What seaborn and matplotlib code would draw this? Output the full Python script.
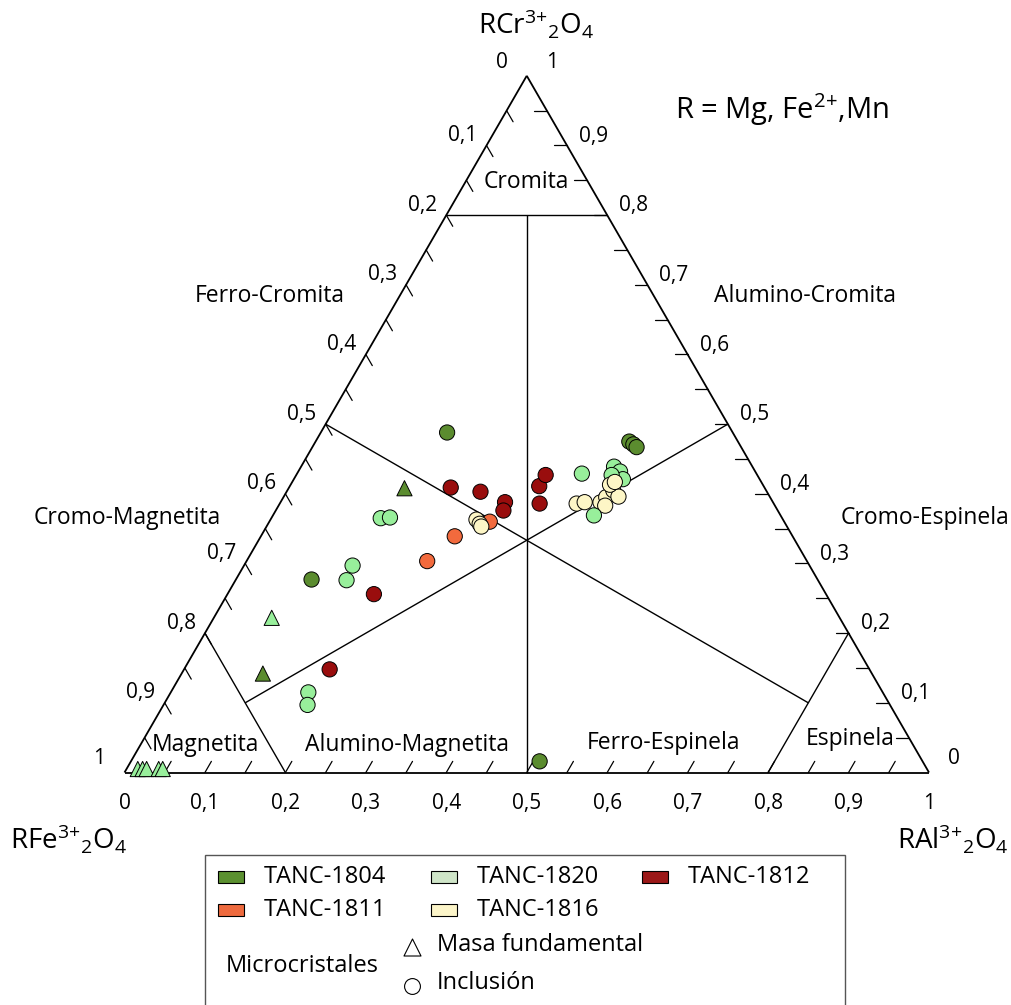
import numpy as np
import pandas as pd
import matplotlib
matplotlib.use('Agg')
import matplotlib.pyplot as plt
import seaborn as sns
from matplotlib.patches import Rectangle

tanc1804_incl = [(0.355, 0.157, 0.488), (0.629, 0.094, 0.277), (0.135, 0.390, 0.475),
                 (0.132, 0.397, 0.471), (0.130, 0.403, 0.467), (0.476, 0.508, 0.016)]
tanc1804_masa = [(0.448, 0.144, 0.408), (0.757, 0.101, 0.142)]

tanc1820_incl = [(0.499, 0.136, 0.365), (0.487, 0.147, 0.366), (0.568, 0.135, 0.297),
                 (0.586, 0.138, 0.276), (0.714, 0.171, 0.115), (0.724, 0.179, 0.097),
                 (0.217, 0.354, 0.429), (0.172, 0.389, 0.439), (0.168, 0.400, 0.432),
                 (0.170, 0.409, 0.421), (0.181, 0.392, 0.427)]
tanc1820_masa = [(0.706, 0.072, 0.222), (0.981, 0.014, 0.005), (0.975, 0.020, 0.005),
                 (0.970, 0.025, 0.005), (0.955, 0.040, 0.005), (0.950, 0.045, 0.005)]

tanc1812_incl = [(0.390, 0.201, 0.409), (0.356, 0.241, 0.403), (0.333, 0.279, 0.388),
                 (0.341, 0.283, 0.376), (0.279, 0.310, 0.411), (0.263, 0.310, 0.427),
                 (0.291, 0.323, 0.386), (0.562, 0.182, 0.256), (0.671, 0.181, 0.148)]

tanc1811_incl = [(0.366, 0.274, 0.360), (0.420, 0.241, 0.339), (0.473, 0.225, 0.304)]

tanc1816_incl = [(0.381, 0.256, 0.363), (0.380, 0.263, 0.357), (0.380, 0.267, 0.353),
                 (0.245, 0.369, 0.386), (0.234, 0.378, 0.388), (0.213, 0.395, 0.385),
                 (0.203, 0.400, 0.394), (0.190, 0.405, 0.405), (0.188, 0.416, 0.396),
                 (0.190, 0.397, 0.413), (0.182, 0.401, 0.417), (0.211, 0.406, 0.383)]

tanc1820_extra = [(0.232, 0.399, 0.369)]

muestras = ['TANC-1804', 'TANC-1811', 'TANC-1820', 'TANC-1816', 'TANC-1812']
colores = {'TANC-1804': '#5b8c2f', 'TANC-1820': '#98ef9b', 'TANC-1812': '#990d0d',
           'TANC-1811': '#f26a3d', 'TANC-1816': '#fdf6c6'}
colores_leyenda = {'TANC-1804': '#5b9030', 'TANC-1820': '#cfe5c8', 'TANC-1812': '#9b1818',
                   'TANC-1811': '#ee6a3e', 'TANC-1816': '#fcf5c9'}

tick_vals = np.round(np.arange(0, 1.01, 0.1), 1)

campos = ['Cromita', 'Ferro-Cromita', 'Alumino-Cromita', 'Magnetita',
          'Alumino-Magnetita', 'Ferro-Espinela', 'Espinela']
campos_pos = [(0.500, 0.734), (0.181, 0.592), (0.846, 0.592),
              (0.101, 0.034), (0.351, 0.034), (0.670, 0.037), (0.902, 0.042)]


def tern(fe, al, cr):
    s = fe + al + cr
    al, cr = al / s, cr / s
    return al + cr / 2, cr * np.sqrt(3) / 2


def px(x, y):
    # pixel de la figura -> coordenadas del triángulo
    return (x - 124.5) / 804.5, (772.5 - y) / 804.5


filas = []
for nombre, tipo, pts in [('TANC-1804', 'Inclusión', tanc1804_incl),
                          ('TANC-1804', 'Masa fundamental', tanc1804_masa),
                          ('TANC-1820', 'Inclusión', tanc1820_incl),
                          ('TANC-1820', 'Masa fundamental', tanc1820_masa),
                          ('TANC-1812', 'Inclusión', tanc1812_incl),
                          ('TANC-1811', 'Inclusión', tanc1811_incl),
                          ('TANC-1816', 'Inclusión', tanc1816_incl),
                          ('TANC-1820', 'Inclusión', tanc1820_extra)]:
    for fe, al, cr in pts:
        x, y = tern(fe, al, cr)
        filas.append({'muestra': nombre, 'tipo': tipo, 'x': x, 'y': y})
df = pd.DataFrame(filas)

sns.set_style('white')
plt.rcParams['font.family'] = ['Open Sans', 'DejaVu Sans']
plt.rcParams['mathtext.fontset'] = 'custom'
plt.rcParams['mathtext.rm'] = 'Open Sans'
plt.rcParams['mathtext.default'] = 'regular'
plt.rcParams['text.color'] = 'black'

fig = plt.figure(figsize=(10.11, 10.05), dpi=100)
ax = fig.add_axes([0, 0, 1, 1])

# contorno y campos
def seg(p, q, lw=1.0):
    x0, y0 = tern(*p)
    x1, y1 = tern(*q)
    ax.plot([x0, x1], [y0, y1], color='black', lw=lw, solid_capstyle='butt', zorder=1)

seg((1, 0, 0), (0, 1, 0), lw=1.3)
seg((0, 1, 0), (0, 0, 1), lw=1.3)
seg((0, 0, 1), (1, 0, 0), lw=1.3)
seg((0.2, 0, 0.8), (0, 0.2, 0.8))
seg((0.1, 0.1, 0.8), (0.5, 0.5, 0))
seg((0.5, 0, 0.5), (0.1, 0.8, 0.1))
seg((0, 0.5, 0.5), (0.8, 0.1, 0.1))
seg((0.8, 0, 0.2), (0.8, 0.2, 0))
seg((0, 0.8, 0.2), (0.2, 0.8, 0))

# marcas
L = 0.016
for v in np.arange(0.05, 0.99, 0.05):
    x, y = tern(v, 0, 1 - v)
    ax.plot([x, x + L * 0.5], [y, y - L * 0.866], color='black', lw=0.9, zorder=1)
    x, y = tern(0, 1 - v, v)
    ax.plot([x, x - L], [y, y], color='black', lw=0.9, zorder=1)
    x, y = tern(1 - v, v, 0)
    ax.plot([x, x + L * 0.5], [y, y + L * 0.866], color='black', lw=0.9, zorder=1)


def etiqueta(v):
    if v == 0:
        return '0'
    if v == 1:
        return '1'
    return f'{v:.1f}'.replace('.', ',')


fs_tick = 15
for v in tick_vals:
    x, y = tern(1 - v, v, 0)
    ax.text(x, y - 0.038, etiqueta(v), ha='center', va='center', fontsize=fs_tick)
    x, y = tern(v, 0, 1 - v)
    if v in (0, 1):
        ax.text(x - 0.024, y + 0.017, etiqueta(v), ha='right', va='center', fontsize=fs_tick)
    else:
        ax.text(x - 0.0115, y + 0.0125, etiqueta(v), ha='right', va='center', fontsize=fs_tick)
    x, y = tern(0, 1 - v, v)
    if v in (0, 1):
        ax.text(x + 0.024, y + 0.017, etiqueta(v), ha='left', va='center', fontsize=fs_tick)
    else:
        ax.text(x + 0.015, y + 0.0115, etiqueta(v), ha='left', va='center', fontsize=fs_tick)

for nombre, (x, y) in zip(campos, campos_pos):
    ax.text(x, y, nombre, ha='center', va='center', fontsize=16.5)
x, y = px(34, 518)
ax.text(x, y, 'Cromo-Magnetita', ha='left', va='center', fontsize=16.5)
x, y = px(1009, 518)
ax.text(x, y, 'Cromo-Espinela', ha='right', va='center', fontsize=16.5)

ax.text(0.5115, 0.918, r'RCr$^{3{+}}{}_{2}$O$_{4}$', ha='center', va='baseline', fontsize=20)
ax.text(-0.070, -0.094, r'RFe$^{3{+}}{}_{2}$O$_{4}$', ha='center', va='baseline', fontsize=20)
ax.text(1.030, -0.094, r'RAl$^{3{+}}{}_{2}$O$_{4}$', ha='center', va='baseline', fontsize=20)
x, y = px(782, 110)
ax.text(x, y, r'R = Mg, Fe$^{2{+}}$,Mn', ha='center', va='center', fontsize=21)

sns.scatterplot(data=df, x='x', y='y', hue='muestra', style='tipo', palette=colores,
                markers={'Inclusión': 'o', 'Masa fundamental': '^'}, s=120,
                edgecolor='black', linewidth=0.7, legend=False, ax=ax, zorder=3)

# leyenda
x0, y0 = px(205, 1012)
x1, y1 = px(845, 855)
ax.add_patch(Rectangle((x0, y0), x1 - x0, y1 - y0, fill=False, edgecolor='#555555', lw=1.0, clip_on=False))

pos_leyenda = {'TANC-1804': (218, 877), 'TANC-1820': (431, 877), 'TANC-1812': (642, 877),
               'TANC-1811': (218, 909.5), 'TANC-1816': (431, 909.5)}
for nombre in muestras:
    cx, cy = pos_leyenda[nombre]
    a, b = px(cx, cy + 6)
    c, d = px(cx + 26, cy - 6)
    ax.add_patch(Rectangle((a, b), c - a, d - b, facecolor=colores_leyenda[nombre],
                           edgecolor='black', lw=0.8, clip_on=False))
    tx, ty = px(cx + 46, cy)
    ax.text(tx, ty, nombre, ha='left', va='center', fontsize=17)

mx, my = px(412, 947)
ax.scatter([mx], [my], marker='^', s=150, facecolor='white', edgecolor='black', linewidth=0.8, clip_on=False)
tx, ty = px(437, 945)
ax.text(tx, ty, 'Masa fundamental', ha='left', va='center', fontsize=17)
mx, my = px(411.5, 986)
ax.scatter([mx], [my], marker='o', s=130, facecolor='white', edgecolor='black', linewidth=0.8, clip_on=False)
tx, ty = px(437, 983)
ax.text(tx, ty, 'Inclusión', ha='left', va='center', fontsize=17)
tx, ty = px(226, 966)
ax.text(tx, ty, 'Microcristales', ha='left', va='center', fontsize=17)

xa, ya = px(0, 1005)
xb, yb = px(1011, 0)
ax.set_xlim(xa, xb)
ax.set_ylim(ya, yb)
ax.axis('off')

fig.savefig('out.png', dpi=100)
